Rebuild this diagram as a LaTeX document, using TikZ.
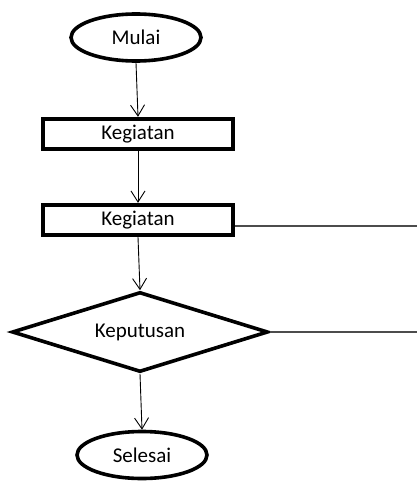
\documentclass[tikz,border=0pt]{standalone}
\usepackage{fontspec}
\setmainfont{Carlito}
\usetikzlibrary{shapes.geometric,arrows.meta}
\begin{document}
\begin{tikzpicture}[x=1pt,y=-1pt,
  term/.style={draw, ellipse, line width=3.6pt, inner sep=0pt, minimum width=130pt, minimum height=47pt},
  procbox/.style={draw, rectangle, line width=4.4pt, inner sep=0pt, minimum width=190pt, minimum height=30pt},
  decbox/.style={draw, diamond, line width=3.6pt, inner sep=0pt, aspect=3.2, minimum width=256pt, minimum height=80pt},
  flow/.style={line width=0.9pt, -{Straight Barb[length=11pt,width=14pt,line width=0.9pt]}},
  sideline/.style={line width=1.3pt, draw=black!70},
  txt/.style={font=\fontsize{21}{23}\selectfont}
]
\useasboundingbox (0,0) rectangle (417,481);
\node[term, txt] (mulai) at (136,37.5) {Mulai};
\node[procbox, txt] (k1) at (138,134) {Kegiatan};
\node[procbox, txt] (k2) at (138,220) {Kegiatan};
\node[decbox, txt] (dec) at (140,332) {Keputusan};
\node[term, txt] (selesai) at (142,455) {Selesai};
\coordinate (r1) at (417,226);
\coordinate (r2) at (417,332);
\draw[flow] (mulai.south) -- (k1.north);
\draw[flow] (k1.south) -- (k2.north);
\draw[flow] (k2.south) -- (dec.north);
\draw[flow] (dec.south) -- (selesai.north);
\draw[sideline] (k2.east |- r1) -- (r1);
\draw[sideline] (dec.east) -- (r2);
\end{tikzpicture}
\end{document}
